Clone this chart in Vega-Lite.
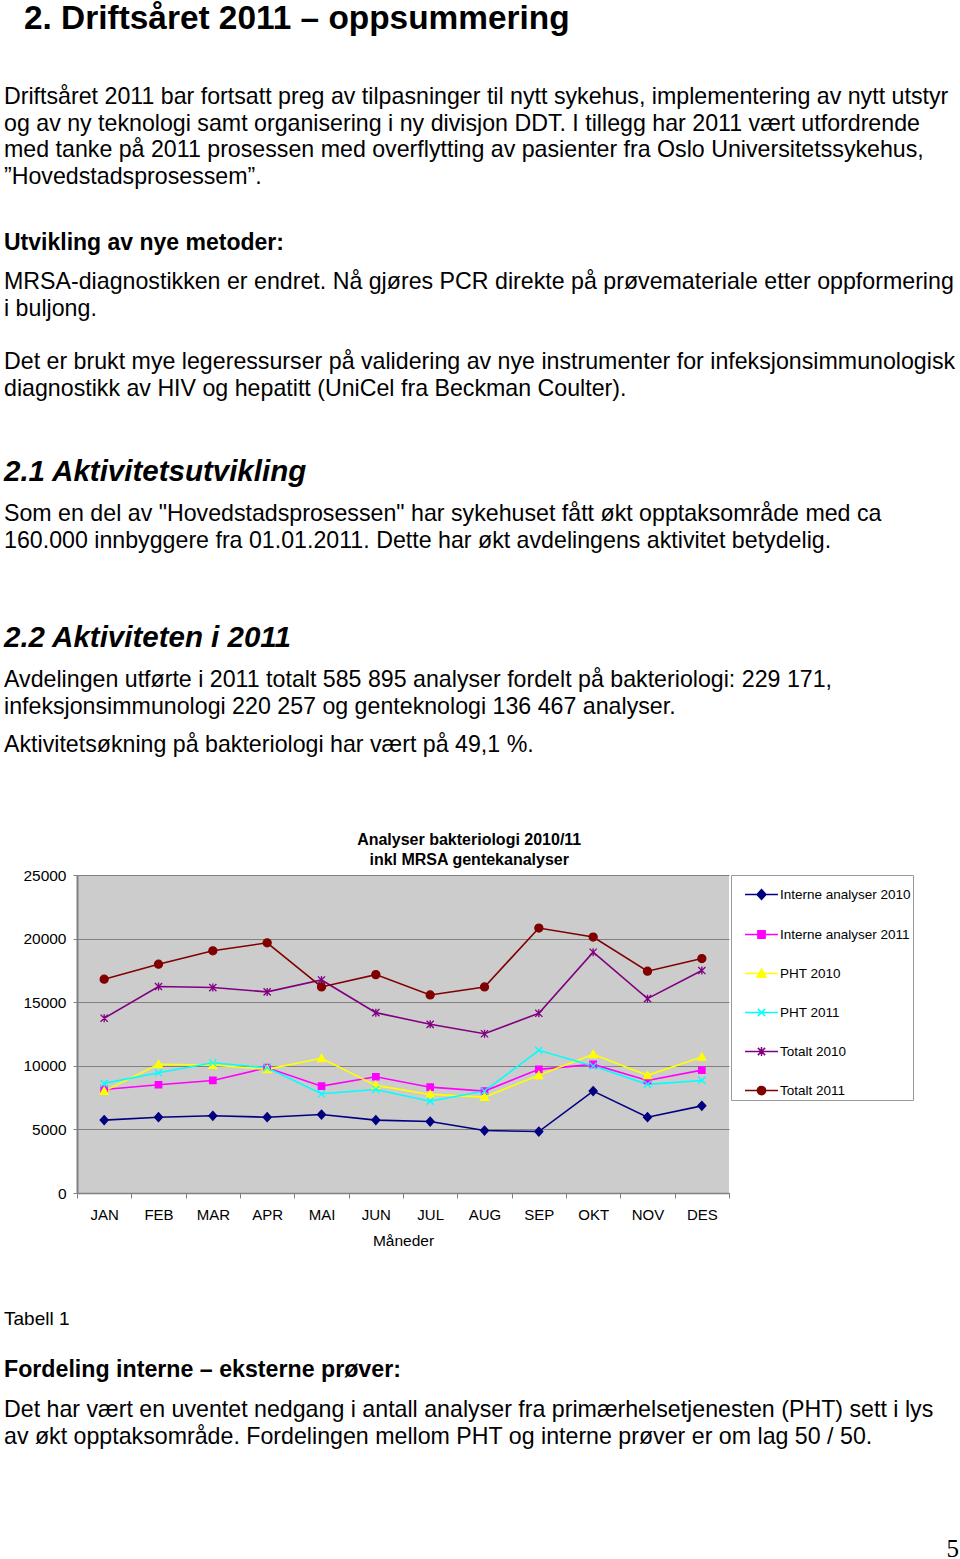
{
  "$schema": "https://vega.github.io/schema/vega-lite/v6.json",
  "background": "white",
  "padding": {"left": 4, "top": 1, "right": 0, "bottom": 0},
  "autosize": {"type": "pad"},
  "bounds": "flush",
  "spacing": 0,
  "resolve": {
    "scale": {"color": "independent", "shape": "independent", "stroke": "independent", "fill": "independent"},
    "legend": {"color": "independent", "shape": "independent", "stroke": "independent", "fill": "independent"}
  },
  "config": {
    "font": "Liberation Sans",
    "view": {"stroke": null},
    "title": {"font": "Liberation Sans", "subtitleFont": "Liberation Sans", "color": "black", "subtitleColor": "black", "anchor": "start", "frame": "group", "offset": 0, "dx": -73, "lineHeight": 26.5, "subtitleFontSize": 23.2, "subtitleLineHeight": 26.5, "subtitleFontWeight": "normal"}
  },
  "datasets": {
    "bakt": [
      {"month": "JAN", "series": "Interne analyser 2010", "value": 5730},
      {"month": "FEB", "series": "Interne analyser 2010", "value": 5960},
      {"month": "MAR", "series": "Interne analyser 2010", "value": 6070},
      {"month": "APR", "series": "Interne analyser 2010", "value": 5960},
      {"month": "MAI", "series": "Interne analyser 2010", "value": 6170},
      {"month": "JUN", "series": "Interne analyser 2010", "value": 5730},
      {"month": "JUL", "series": "Interne analyser 2010", "value": 5620},
      {"month": "AUG", "series": "Interne analyser 2010", "value": 4910},
      {"month": "SEP", "series": "Interne analyser 2010", "value": 4830},
      {"month": "OKT", "series": "Interne analyser 2010", "value": 8010},
      {"month": "NOV", "series": "Interne analyser 2010", "value": 5960},
      {"month": "DES", "series": "Interne analyser 2010", "value": 6850},
      {"month": "JAN", "series": "Interne analyser 2011", "value": 8140},
      {"month": "FEB", "series": "Interne analyser 2011", "value": 8510},
      {"month": "MAR", "series": "Interne analyser 2011", "value": 8850},
      {"month": "APR", "series": "Interne analyser 2011", "value": 9850},
      {"month": "MAI", "series": "Interne analyser 2011", "value": 8400},
      {"month": "JUN", "series": "Interne analyser 2011", "value": 9140},
      {"month": "JUL", "series": "Interne analyser 2011", "value": 8320},
      {"month": "AUG", "series": "Interne analyser 2011", "value": 8010},
      {"month": "SEP", "series": "Interne analyser 2011", "value": 9720},
      {"month": "OKT", "series": "Interne analyser 2011", "value": 10110},
      {"month": "NOV", "series": "Interne analyser 2011", "value": 8850},
      {"month": "DES", "series": "Interne analyser 2011", "value": 9660},
      {"month": "JAN", "series": "PHT 2010", "value": 8010},
      {"month": "FEB", "series": "PHT 2010", "value": 10110},
      {"month": "MAR", "series": "PHT 2010", "value": 10060},
      {"month": "APR", "series": "PHT 2010", "value": 9720},
      {"month": "MAI", "series": "PHT 2010", "value": 10590},
      {"month": "JUN", "series": "PHT 2010", "value": 8460},
      {"month": "JUL", "series": "PHT 2010", "value": 7750},
      {"month": "AUG", "series": "PHT 2010", "value": 7540},
      {"month": "SEP", "series": "PHT 2010", "value": 9250},
      {"month": "OKT", "series": "PHT 2010", "value": 10900},
      {"month": "NOV", "series": "PHT 2010", "value": 9250},
      {"month": "DES", "series": "PHT 2010", "value": 10690},
      {"month": "JAN", "series": "PHT 2011", "value": 8620},
      {"month": "FEB", "series": "PHT 2011", "value": 9450},
      {"month": "MAR", "series": "PHT 2011", "value": 10240},
      {"month": "APR", "series": "PHT 2011", "value": 9850},
      {"month": "MAI", "series": "PHT 2011", "value": 7800},
      {"month": "JUN", "series": "PHT 2011", "value": 8140},
      {"month": "JUL", "series": "PHT 2011", "value": 7220},
      {"month": "AUG", "series": "PHT 2011", "value": 8010},
      {"month": "SEP", "series": "PHT 2011", "value": 11220},
      {"month": "OKT", "series": "PHT 2011", "value": 9980},
      {"month": "NOV", "series": "PHT 2011", "value": 8540},
      {"month": "DES", "series": "PHT 2011", "value": 8850},
      {"month": "JAN", "series": "Totalt 2010", "value": 13740},
      {"month": "FEB", "series": "Totalt 2010", "value": 16230},
      {"month": "MAR", "series": "Totalt 2010", "value": 16150},
      {"month": "APR", "series": "Totalt 2010", "value": 15810},
      {"month": "MAI", "series": "Totalt 2010", "value": 16750},
      {"month": "JUN", "series": "Totalt 2010", "value": 14180},
      {"month": "JUL", "series": "Totalt 2010", "value": 13260},
      {"month": "AUG", "series": "Totalt 2010", "value": 12520},
      {"month": "SEP", "series": "Totalt 2010", "value": 14130},
      {"month": "OKT", "series": "Totalt 2010", "value": 18930},
      {"month": "NOV", "series": "Totalt 2010", "value": 15280},
      {"month": "DES", "series": "Totalt 2010", "value": 17490},
      {"month": "JAN", "series": "Totalt 2011", "value": 16810},
      {"month": "FEB", "series": "Totalt 2011", "value": 17990},
      {"month": "MAR", "series": "Totalt 2011", "value": 19040},
      {"month": "APR", "series": "Totalt 2011", "value": 19670},
      {"month": "MAI", "series": "Totalt 2011", "value": 16200},
      {"month": "JUN", "series": "Totalt 2011", "value": 17170},
      {"month": "JUL", "series": "Totalt 2011", "value": 15570},
      {"month": "AUG", "series": "Totalt 2011", "value": 16200},
      {"month": "SEP", "series": "Totalt 2011", "value": 20830},
      {"month": "OKT", "series": "Totalt 2011", "value": 20120},
      {"month": "NOV", "series": "Totalt 2011", "value": 17440},
      {"month": "DES", "series": "Totalt 2011", "value": 18430}
    ]
  },
  "vconcat": [
    {
      "width": 870, "height": 152.7,
      "data": {"values": []},
      "mark": {"type": "text"},
      "title": {"text": "2. Driftsåret 2011 – oppsummering", "fontSize": 33.4, "fontWeight": "bold", "dx": -53}
    },
    {
      "width": 870, "height": 130.5,
      "data": {"values": []},
      "mark": {"type": "text"},
      "title": {
        "text": [
          "Driftsåret 2011 bar fortsatt preg av tilpasninger til nytt sykehus, implementering av nytt utstyr",
          "og av ny teknologi samt organisering i ny divisjon DDT. I tillegg har 2011 vært utfordrende",
          "med tanke på 2011 prosessen med overflytting av pasienter fra Oslo Universitetssykehus,",
          "”Hovedstadsprosessem”."
        ],
        "fontSize": 23.2, "fontWeight": "normal"
      }
    },
    {
      "width": 870, "height": 80.5,
      "data": {"values": []},
      "mark": {"type": "text"},
      "title": {
        "text": "Utvikling av nye metoder:",
        "fontSize": 23, "fontWeight": "bold",
        "subtitle": [
          "MRSA-diagnostikken er endret. Nå gjøres PCR direkte på prøvemateriale etter oppformering",
          "i buljong."
        ],
        "subtitlePadding": 16
      }
    },
    {
      "width": 870, "height": 152,
      "data": {"values": []},
      "mark": {"type": "text"},
      "title": {
        "text": [
          "Det er brukt mye legeressurser på validering av nye instrumenter for infeksjonsimmunologisk",
          "diagnostikk av HIV og hepatitt (UniCel fra Beckman Coulter)."
        ],
        "fontSize": 23.2, "fontWeight": "normal"
      }
    },
    {
      "width": 870, "height": 166,
      "data": {"values": []},
      "mark": {"type": "text"},
      "title": {
        "text": "2.1 Aktivitetsutvikling",
        "fontSize": 29.5, "fontWeight": "bold", "fontStyle": "italic",
        "subtitle": [
          "Som en del av \"Hovedstadsprosessen\" har sykehuset fått økt opptaksområde med ca",
          "160.000 innbyggere fra 01.01.2011. Dette har økt avdelingens aktivitet betydelig."
        ],
        "subtitlePadding": 16
      }
    },
    {
      "width": 870, "height": 37.8,
      "data": {"values": []},
      "mark": {"type": "text"},
      "title": {
        "text": "2.2 Aktiviteten i 2011",
        "fontSize": 29.5, "fontWeight": "bold", "fontStyle": "italic",
        "subtitle": [
          "Avdelingen utførte i 2011 totalt 585 895 analyser fordelt på bakteriologi: 229 171,",
          "infeksjonsimmunologi 220 257 og genteknologi 136 467 analyser."
        ],
        "subtitlePadding": 16
      }
    },
    {
      "width": 870, "height": 113.6,
      "data": {"values": []},
      "mark": {"type": "text"},
      "title": {
        "text": "Aktivitetsøkning på bakteriologi har vært på 49,1 %.",
        "fontSize": 23.2, "fontWeight": "normal"
      }
    },
    {
      "width": 652, "height": 318,
      "view": {"fill": "#cccccc", "stroke": null},
      "data": {"name": "bakt"},
      "title": {
        "text": ["Analyser bakteriologi 2010/11", "inkl MRSA gentekanalyser"],
        "anchor": "middle", "frame": "bounds", "dx": 1,
        "fontSize": 16, "fontWeight": "bold", "lineHeight": 20, "offset": 0
      },
      "encoding": {
        "x": {
          "field": "month", "type": "nominal",
          "sort": ["JAN", "FEB", "MAR", "APR", "MAI", "JUN", "JUL", "AUG", "SEP", "OKT", "NOV", "DES"],
          "scale": {"paddingInner": 0, "paddingOuter": 0},
          "title": "Måneder",
          "axis": {
            "labelAngle": 0, "labelFontSize": 15, "labelColor": "black", "labelPadding": 9,
            "tickBand": "extent", "tickSize": 5, "tickColor": "#808080",
            "domainColor": "#808080", "domainWidth": 1.5, "grid": false,
            "titleFontSize": 15.5, "titleFontWeight": "normal", "titleColor": "black", "titlePadding": 11
          }
        },
        "y": {
          "field": "value", "type": "quantitative",
          "scale": {"domain": [0, 25000], "nice": false},
          "title": null,
          "axis": {
            "values": [0, 5000, 10000, 15000, 20000, 25000], "format": "d",
            "labelFontSize": 15.5, "labelColor": "black", "labelPadding": 7,
            "tickSize": 4, "tickColor": "#808080",
            "domainColor": "#808080", "domainWidth": 2,
            "grid": true, "gridColor": "#808080", "gridWidth": 1, "gridOpacity": 1
          }
        }
      },
      "layer": [
        {
          "mark": {"type": "line", "strokeWidth": 1.6},
          "encoding": {
            "color": {
              "field": "series", "type": "nominal",
              "scale": {
                "domain": ["Interne analyser 2010", "Interne analyser 2011", "PHT 2010", "PHT 2011", "Totalt 2010", "Totalt 2011"],
                "range": ["#000080", "#ff00ff", "#ffff00", "#00ffff", "#800080", "#800000"]
              },
              "legend": {
                "title": null, "orient": "right", "offset": 2, "padding": 2,
                "fillColor": "white", "strokeColor": "#999999",
                "labelFontSize": 13.5, "labelColor": "black", "labelLimit": 300,
                "rowPadding": 14, "symbolSize": 1089, "symbolOffset": 11, "labelOffset": 1,
                "symbolStrokeWidth": 1.5,
                "encode": {
                  "symbols": {
                    "update": {
                      "shape": {"signal": "datum.value === 'Interne analyser 2010' ? 'M-1,0H1M0,-0.3L0.27,0L0,0.3L-0.27,0Z' : datum.value === 'Interne analyser 2011' ? 'M-1,0H1M-0.22,-0.22H0.22V0.22H-0.22Z' : datum.value === 'PHT 2010' ? 'M-1,0H1M0,-0.27L0.27,0.22H-0.27Z' : datum.value === 'PHT 2011' ? 'M-1,0H1M-0.22,-0.22L0.22,0.22M-0.22,0.22L0.22,-0.22' : datum.value === 'Totalt 2010' ? 'M-1,0H1M-0.22,-0.22L0.22,0.22M-0.22,0.22L0.22,-0.22M0,-0.27V0.27' : 'M-1,0H1M0.25,0A0.25,0.25,0,1,1,-0.25,0A0.25,0.25,0,1,1,0.25,0Z'"},
                      "fill": {"signal": "datum.value === 'Interne analyser 2010' ? '#000080' : datum.value === 'Interne analyser 2011' ? '#ff00ff' : datum.value === 'PHT 2010' ? '#ffff00' : datum.value === 'PHT 2011' ? '#00ffff' : datum.value === 'Totalt 2010' ? '#800080' : '#800000'"},
                      "stroke": {"signal": "datum.value === 'Interne analyser 2010' ? '#000080' : datum.value === 'Interne analyser 2011' ? '#ff00ff' : datum.value === 'PHT 2010' ? '#ffff00' : datum.value === 'PHT 2011' ? '#00ffff' : datum.value === 'Totalt 2010' ? '#800080' : '#800000'"},
                      "strokeWidth": {"value": 1.5},
                      "opacity": {"value": 1}
                    }
                  }
                }
              }
            }
          }
        },
        {
          "mark": {"type": "point", "filled": true, "size": 64, "opacity": 1, "strokeWidth": 1.3},
          "encoding": {
            "shape": {
              "field": "series", "type": "nominal", "legend": null,
              "scale": {
                "domain": ["Totalt 2011", "Totalt 2010", "PHT 2011", "PHT 2010", "Interne analyser 2011", "Interne analyser 2010"],
                "range": ["circle", "M-0.9,-0.9L0.9,0.9M-0.9,0.9L0.9,-0.9M0,-1V1", "M-0.9,-0.9L0.9,0.9M-0.9,0.9L0.9,-0.9", "M0,-1L1,0.8H-1Z", "M-0.8,-0.8H0.8V0.8H-0.8Z", "M0,-1.1L1,0L0,1.1L-1,0Z"]
              }
            },
            "fill": {
              "field": "series", "type": "nominal", "legend": null,
              "scale": {
                "domain": ["Interne analyser 2010", "Interne analyser 2011", "PHT 2010", "PHT 2011", "Totalt 2010", "Totalt 2011"],
                "range": ["#000080", "#ff00ff", "#ffff00", "#00ffff", "#800080", "#800000"]
              }
            },
            "stroke": {
              "field": "series", "type": "nominal", "legend": null,
              "scale": {
                "domain": ["Interne analyser 2010", "Interne analyser 2011", "PHT 2010", "PHT 2011", "Totalt 2010", "Totalt 2011"],
                "range": ["#000080", "#ff00ff", "#ffff00", "#00ffff", "#800080", "#800000"]
              }
            }
          }
        }
      ]
    },
    {
      "width": 870, "height": 139.5,
      "data": {"values": []},
      "mark": {"type": "text"}
    },
    {
      "width": 870, "height": 119.2,
      "data": {"values": []},
      "mark": {"type": "text"},
      "title": {"text": "Tabell 1", "fontSize": 19, "fontWeight": "normal"}
    },
    {
      "width": 870, "height": 112.4,
      "data": {"values": []},
      "mark": {"type": "text"},
      "title": {
        "text": "Fordeling interne – eksterne prøver:",
        "fontSize": 23.2, "fontWeight": "bold",
        "subtitle": [
          "Det har vært en uventet nedgang i antall analyser fra primærhelsetjenesten (PHT) sett i lys",
          "av økt opptaksområde. Fordelingen mellom PHT og interne prøver er om lag 50 / 50."
        ],
        "subtitlePadding": 17
      }
    },
    {
      "width": 882, "height": 1,
      "data": {"values": []},
      "mark": {"type": "text"},
      "title": {"text": "5", "font": "Liberation Serif", "fontSize": 25, "fontWeight": "normal", "anchor": "end", "dx": 0}
    }
  ]
}
